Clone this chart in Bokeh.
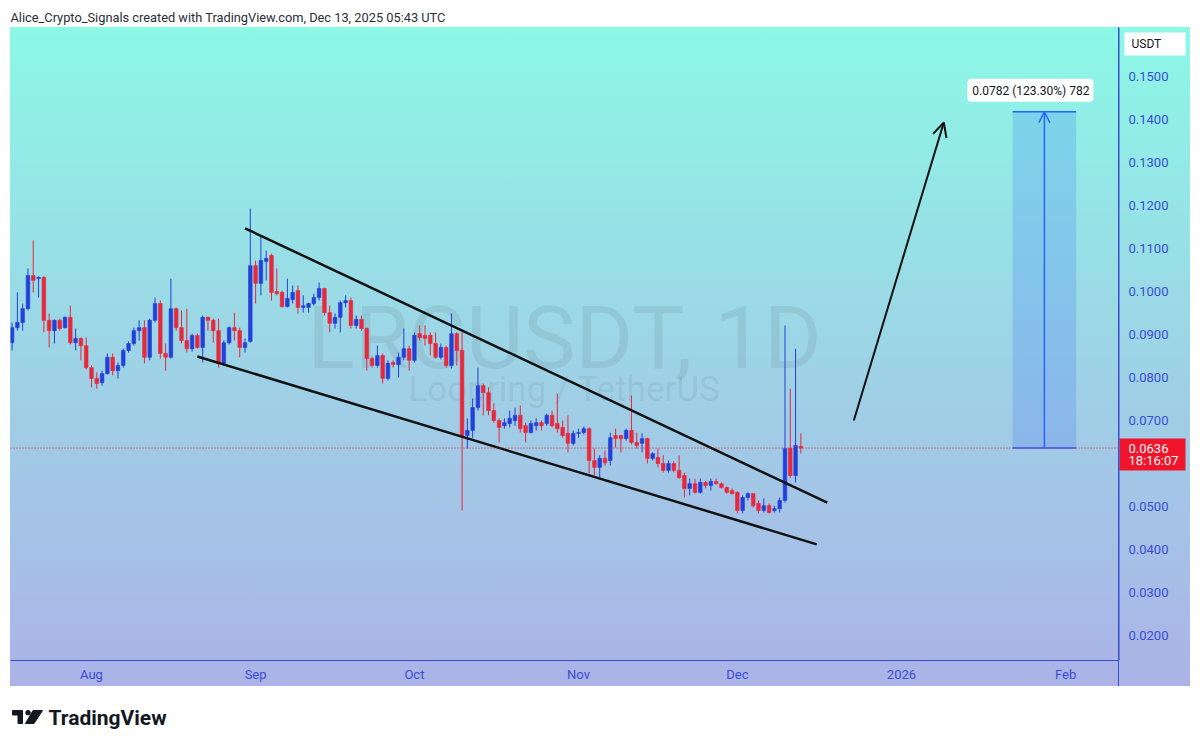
import pandas as pd
from bokeh.plotting import figure
from bokeh.layouts import column, row
from bokeh.models import (Range1d, FixedTicker, Span, Label, Arrow, OpenHead,
                          ColumnDataSource)
from bokeh.core.properties import value
from bokeh.embed import file_html
from bokeh.resources import INLINE

# ---------------- data ----------------
FIRST_DAY = "2025-07-17"
REF_DAY = "2025-08-01"

OPEN = [0.0881, 0.0916, 0.0928, 0.0960, 0.1037, 0.1030, 0.1033, 0.0933, 0.0909, 0.0933,
        0.0916, 0.0940, 0.0881, 0.0891, 0.0874, 0.0823, 0.0798, 0.0788, 0.0809, 0.0847,
        0.0816, 0.0828, 0.0863, 0.0879, 0.0909, 0.0916, 0.0847, 0.0933, 0.0972, 0.0856,
        0.0847, 0.0960, 0.0916, 0.0886, 0.0867, 0.0898, 0.0870, 0.0940, 0.0933, 0.0909,
        0.0833, 0.0881, 0.0916, 0.0909, 0.0870, 0.0884, 0.1060, 0.1019, 0.1070, 0.1084,
        0.1000, 0.0998, 0.0965, 0.0981, 0.1002, 0.0963, 0.0963, 0.0972, 0.0986, 0.1007,
        0.0951, 0.0926, 0.0940, 0.0974, 0.0979, 0.0921, 0.0935, 0.0914, 0.0844, 0.0828,
        0.0851, 0.0798, 0.0835, 0.0830, 0.0847, 0.0867, 0.0840, 0.0902, 0.0898, 0.0898,
        0.0879, 0.0847, 0.0870, 0.0828, 0.0902, 0.0863, 0.0665, 0.0677, 0.0730, 0.0781,
        0.0765, 0.0723, 0.0700, 0.0688, 0.0693, 0.0700, 0.0712, 0.0688, 0.0672, 0.0688,
        0.0695, 0.0693, 0.0712, 0.0693, 0.0684, 0.0670, 0.0647, 0.0670, 0.0672, 0.0681,
        0.0607, 0.0591, 0.0612, 0.0607, 0.0665, 0.0665, 0.0658, 0.0677, 0.0649, 0.0647,
        0.0658, 0.0612, 0.0614, 0.0600, 0.0584, 0.0600, 0.0584, 0.0572, 0.0542, 0.0553,
        0.0533, 0.0556, 0.0549, 0.0558, 0.0553, 0.0544, 0.0537, 0.0533, 0.0491, 0.0521,
        0.0530, 0.0507, 0.0491, 0.0502, 0.0491, 0.0495, 0.0514, 0.0635, 0.0572, 0.0640]

HIGH = [0.0928, 0.0998, 0.0972, 0.1054, 0.1119, 0.1035, 0.1035, 0.0949, 0.0935, 0.0937,
        0.0942, 0.0967, 0.0914, 0.0893, 0.0893, 0.0828, 0.0812, 0.0816, 0.0856, 0.0856,
        0.0835, 0.0867, 0.0884, 0.0916, 0.0933, 0.0933, 0.0937, 0.0986, 0.0979, 0.0879,
        0.1030, 0.0963, 0.0956, 0.0960, 0.0902, 0.0902, 0.0944, 0.0942, 0.0937, 0.0937,
        0.0886, 0.0919, 0.0951, 0.0916, 0.0891, 0.1193, 0.1072, 0.1130, 0.1095, 0.1088,
        0.1054, 0.1002, 0.1030, 0.1014, 0.1014, 0.0991, 0.0974, 0.0995, 0.1021, 0.1009,
        0.0967, 0.0949, 0.0979, 0.0991, 0.0986, 0.0944, 0.0944, 0.0916, 0.0849, 0.0874,
        0.0856, 0.0840, 0.0840, 0.0858, 0.0914, 0.0874, 0.0905, 0.0921, 0.0921, 0.0905,
        0.0905, 0.0879, 0.0874, 0.0949, 0.0905, 0.0905, 0.0705, 0.0751, 0.0823, 0.0786,
        0.0777, 0.0740, 0.0705, 0.0705, 0.0723, 0.0730, 0.0735, 0.0695, 0.0700, 0.0705,
        0.0700, 0.0716, 0.0723, 0.0763, 0.0700, 0.0712, 0.0677, 0.0681, 0.0686, 0.0684,
        0.0635, 0.0619, 0.0630, 0.0672, 0.0681, 0.0667, 0.0681, 0.0758, 0.0672, 0.0670,
        0.0660, 0.0626, 0.0635, 0.0619, 0.0607, 0.0605, 0.0619, 0.0579, 0.0565, 0.0565,
        0.0565, 0.0560, 0.0565, 0.0565, 0.0556, 0.0547, 0.0542, 0.0535, 0.0526, 0.0533,
        0.0530, 0.0514, 0.0519, 0.0507, 0.0502, 0.0521, 0.0921, 0.0774, 0.0867, 0.0670]

LOW = [0.0863, 0.0909, 0.0909, 0.0956, 0.0998, 0.0986, 0.0905, 0.0870, 0.0879, 0.0909,
       0.0914, 0.0877, 0.0863, 0.0840, 0.0819, 0.0777, 0.0774, 0.0781, 0.0807, 0.0805,
       0.0798, 0.0823, 0.0858, 0.0874, 0.0886, 0.0833, 0.0840, 0.0928, 0.0844, 0.0816,
       0.0844, 0.0909, 0.0879, 0.0858, 0.0860, 0.0867, 0.0835, 0.0909, 0.0881, 0.0823,
       0.0828, 0.0877, 0.0886, 0.0847, 0.0858, 0.0881, 0.0972, 0.0991, 0.1026, 0.0979,
       0.0991, 0.0963, 0.0963, 0.0972, 0.0949, 0.0951, 0.0951, 0.0967, 0.0979, 0.0944,
       0.0905, 0.0914, 0.0905, 0.0963, 0.0914, 0.0914, 0.0909, 0.0816, 0.0823, 0.0823,
       0.0786, 0.0793, 0.0823, 0.0800, 0.0840, 0.0816, 0.0835, 0.0886, 0.0874, 0.0851,
       0.0844, 0.0842, 0.0823, 0.0821, 0.0828, 0.0491, 0.0635, 0.0660, 0.0723, 0.0712,
       0.0712, 0.0695, 0.0649, 0.0681, 0.0684, 0.0688, 0.0672, 0.0649, 0.0670, 0.0677,
       0.0677, 0.0688, 0.0684, 0.0672, 0.0660, 0.0626, 0.0642, 0.0660, 0.0667, 0.0577,
       0.0572, 0.0567, 0.0595, 0.0595, 0.0637, 0.0626, 0.0653, 0.0644, 0.0635, 0.0626,
       0.0600, 0.0607, 0.0591, 0.0579, 0.0579, 0.0579, 0.0565, 0.0521, 0.0526, 0.0530,
       0.0530, 0.0542, 0.0537, 0.0551, 0.0542, 0.0530, 0.0528, 0.0484, 0.0484, 0.0514,
       0.0498, 0.0484, 0.0486, 0.0484, 0.0486, 0.0486, 0.0509, 0.0567, 0.0556, 0.0623]

CLOSE = [0.0916, 0.0928, 0.0960, 0.1037, 0.1026, 0.1033, 0.0933, 0.0909, 0.0933, 0.0914,
         0.0940, 0.0881, 0.0891, 0.0874, 0.0823, 0.0798, 0.0786, 0.0809, 0.0847, 0.0816,
         0.0828, 0.0863, 0.0879, 0.0909, 0.0916, 0.0847, 0.0933, 0.0972, 0.0856, 0.0847,
         0.0960, 0.0916, 0.0886, 0.0867, 0.0898, 0.0870, 0.0940, 0.0933, 0.0909, 0.0833,
         0.0881, 0.0916, 0.0909, 0.0870, 0.0881, 0.1060, 0.1019, 0.1072, 0.1077, 0.0998,
         0.0995, 0.0965, 0.0984, 0.0998, 0.0963, 0.0967, 0.0972, 0.0986, 0.1007, 0.0951,
         0.0926, 0.0940, 0.0974, 0.0979, 0.0921, 0.0935, 0.0914, 0.0844, 0.0828, 0.0851,
         0.0798, 0.0833, 0.0830, 0.0847, 0.0867, 0.0840, 0.0898, 0.0893, 0.0891, 0.0879,
         0.0847, 0.0870, 0.0828, 0.0902, 0.0863, 0.0665, 0.0677, 0.0730, 0.0781, 0.0765,
         0.0723, 0.0700, 0.0684, 0.0695, 0.0705, 0.0712, 0.0681, 0.0672, 0.0693, 0.0695,
         0.0688, 0.0712, 0.0688, 0.0681, 0.0665, 0.0647, 0.0670, 0.0672, 0.0681, 0.0607,
         0.0591, 0.0612, 0.0602, 0.0660, 0.0658, 0.0658, 0.0677, 0.0649, 0.0642, 0.0658,
         0.0612, 0.0623, 0.0600, 0.0584, 0.0600, 0.0584, 0.0567, 0.0542, 0.0553, 0.0533,
         0.0556, 0.0549, 0.0558, 0.0553, 0.0544, 0.0533, 0.0530, 0.0491, 0.0521, 0.0530,
         0.0502, 0.0491, 0.0502, 0.0486, 0.0495, 0.0514, 0.0635, 0.0572, 0.0642, 0.0636]

MONTH_TICKS = ["2025-08-01", "2025-09-01", "2025-10-01", "2025-11-01",
               "2025-12-01", "2026-01-01", "2026-02-01"]
MONTH_LABELS = ["Aug", "Sep", "Oct", "Nov", "Dec", "2026", "Feb"]
PRICE_TICKS = [0.02, 0.03, 0.04, 0.05, 0.07, 0.08, 0.09, 0.10, 0.11, 0.12, 0.13, 0.14, 0.15]

LAST_PRICE = 0.0636
LAST_TIME = "18:16:07"
MEASURE_DELTA = 0.0782
MEASURE_TEXT = "0.0782 (123.30%) 782"
MEASURE_DATES = ["2026-01-22", "2026-02-03"]

UPPER_DATES = ["2025-08-30", "2025-12-18"]
UPPER_PRICES = [0.1147, 0.0509]
LOWER_DATES = ["2025-08-21", "2025-12-16"]
LOWER_PRICES = [0.0849, 0.0412]
ARROW_DATES = ["2025-12-23", "2026-01-09"]
ARROW_PRICES = [0.0700, 0.1393]

HEADER = "Alice_Crypto_Signals created with TradingView.com, Dec 13, 2025 05:43 UTC"
SYMBOL = "LRCUSDT, 1D"
SYMBOL_DESC = "Loopring / TetherUS"
CURRENCY = "USDT"
BRAND = "TradingView"

# ---------------- helpers ----------------
REF = pd.Timestamp(REF_DAY)


def day(d):
    return float((pd.Timestamp(d) - REF).days)


dates = pd.date_range(FIRST_DAY, periods=len(OPEN), freq="D")
xs = [float((d - REF).days) for d in dates]

UP = "#2340d8"
DOWN = "#e8283c"
colors = [UP if c >= o else DOWN for o, c in zip(OPEN, CLOSE)]
tops = [max(o, c) for o, c in zip(OPEN, CLOSE)]
bots = [min(o, c) for o, c in zip(OPEN, CLOSE)]
src = ColumnDataSource(dict(x=xs, h=HIGH, l=LOW, top=tops, bottom=bots, color=colors))

TOTAL_W = 1192
MAIN_W = 1118
STRIP_W = TOTAL_W - MAIN_W
CHART_H = 659
FRAME_H = 633
BOTTOM_B = CHART_H - FRAME_H
FONT = "Roboto"
AXIS_BLUE = "#3a4dd2"
GRAD = "linear-gradient(180deg, #8cf8e6 0%, #9fd0e6 55%, #abb3e7 100%)"

# ---------------- header ----------------
hdr = figure(width=TOTAL_W, height=27, x_range=Range1d(0, TOTAL_W), y_range=Range1d(27, 0),
             output_backend="svg", toolbar_location=None, min_border=0,
             x_axis_location=None, y_axis_location=None)
hdr.grid.visible = False
hdr.outline_line_color = None
hdr.text(x=[10], y=[17], text=[HEADER], text_font=value(FONT), text_font_size="12.8px",
         text_color="#2a2e39", text_baseline="middle", text_align="left")

# ---------------- main chart ----------------
X0, X1 = -15.3, 194.0
Y0, Y1 = 0.01419, 0.16140
PX = (Y1 - Y0) / FRAME_H  # price per pixel
yr = Range1d(Y0, Y1)

p = figure(width=MAIN_W, height=CHART_H, x_range=Range1d(X0, X1), y_range=yr,
           output_backend="svg", toolbar_location=None, y_axis_location=None,
           min_border=0, min_border_left=10, min_border_right=0, min_border_top=0,
           min_border_bottom=BOTTOM_B)
p.background_fill_alpha = 0
p.border_fill_alpha = 0
p.outline_line_color = None
p.grid.visible = False
p.styles = {"background": GRAD + " 10px 0px / 1108px 100% no-repeat"}

xa = p.xaxis[0]
tick_x = [day(d) for d in MONTH_TICKS]
xa.ticker = FixedTicker(ticks=tick_x)
xa.major_label_overrides = {t: lab for t, lab in zip(tick_x, MONTH_LABELS)}
xa.axis_line_color = AXIS_BLUE
xa.major_tick_line_color = None
xa.minor_tick_line_color = None
xa.major_tick_out = 0
xa.major_tick_in = 0
xa.minor_tick_out = 0
xa.major_label_text_color = AXIS_BLUE
xa.major_label_text_font = FONT
xa.major_label_text_font_size = "13px"
xa.major_label_standoff = 6

# watermark (drawn first so it sits under the candles)
xmid = (X0 + X1) / 2
p.text(x=[xmid], y=[0.0893], text=[SYMBOL], text_align="center", text_baseline="alphabetic",
       text_font=value(FONT), text_font_size="88px", text_color="#5d7080", text_alpha=0.15)
p.text(x=[xmid], y=[0.0772], text=[SYMBOL_DESC], text_align="center",
       text_baseline="alphabetic", text_font=value(FONT), text_font_size="35px",
       text_color="#5d7080", text_alpha=0.15)

# current price line
p.add_layout(Span(location=LAST_PRICE, dimension="width", line_color="#f0152b",
                  line_dash="1 2", line_width=1))

# candles
p.segment(x0="x", y0="h", x1="x", y1="l", line_color="color", line_width=1, source=src)
p.vbar(x="x", width=0.68, top="top", bottom="bottom", fill_color="color",
       line_color="color", line_width=0.6, source=src)

# trend lines (falling wedge)
p.line([day(d) for d in UPPER_DATES], UPPER_PRICES, line_color="#111111", line_width=2.5)
p.line([day(d) for d in LOWER_DATES], LOWER_PRICES, line_color="#111111", line_width=2.5)

# projection arrow
p.add_layout(Arrow(end=OpenHead(size=14, line_width=2, line_color="#111111"),
                   x_start=day(ARROW_DATES[0]), y_start=ARROW_PRICES[0],
                   x_end=day(ARROW_DATES[1]), y_end=ARROW_PRICES[1],
                   line_color="#111111", line_width=2))

# price-range measurement
mx0, mx1 = day(MEASURE_DATES[0]), day(MEASURE_DATES[1])
mtop = LAST_PRICE + MEASURE_DELTA
MBLUE = "#2962ff"
p.quad(left=[mx0], right=[mx1], bottom=[LAST_PRICE], top=[mtop],
       fill_color=MBLUE, fill_alpha=0.19, line_color=None)
p.segment(x0=[mx0, mx0], y0=[mtop, LAST_PRICE], x1=[mx1, mx1], y1=[mtop, LAST_PRICE],
          line_color=MBLUE, line_width=1.5)
mmid = (mx0 + mx1) / 2
p.add_layout(Arrow(end=OpenHead(size=11, line_width=1.5, line_color=MBLUE),
                   x_start=mmid, y_start=LAST_PRICE, x_end=mmid, y_end=mtop,
                   line_color=MBLUE, line_width=1.5))
p.add_layout(Label(x=mmid, y=mtop, x_offset=-14, y_offset=10, text=MEASURE_TEXT,
                   text_align="center", text_baseline="bottom", text_font=FONT,
                   text_font_size="12px", text_color="#131722",
                   background_fill_color="white", border_radius=4,
                   padding=(5, 4, 5, 4)))

# ---------------- price scale strip (shares the price range) ----------------
strip = figure(width=STRIP_W, height=CHART_H, x_range=Range1d(0, STRIP_W), y_range=yr,
               output_backend="svg", toolbar_location=None, min_border=0,
               min_border_bottom=BOTTOM_B, x_axis_location=None, y_axis_location=None)
strip.background_fill_alpha = 0
strip.border_fill_alpha = 0
strip.outline_line_color = None
strip.grid.visible = False
strip.styles = {"background": "linear-gradient(%s, %s) 0px 0px / 1px 100%% no-repeat, "
                              "%s 0px 0px / 72px 100%% no-repeat" % (AXIS_BLUE, AXIS_BLUE, GRAD)}
strip.add_layout(Span(location=0.5, dimension="height", line_color=AXIS_BLUE, line_width=1))
strip.text(x=[10] * len(PRICE_TICKS), y=PRICE_TICKS,
           text=["%.4f" % t for t in PRICE_TICKS], text_font=value(FONT),
           text_font_size="13px", text_color=AXIS_BLUE, text_baseline="middle",
           text_align="left")
# last-price tag
strip.quad(left=[1], right=[67], bottom=[LAST_PRICE - 22.5 * PX], top=[LAST_PRICE + 9.5 * PX],
           fill_color="#f0152b", line_color=None)
strip.text(x=[10, 10], y=[LAST_PRICE, LAST_PRICE - 12.5 * PX],
           text=["%.4f" % LAST_PRICE, LAST_TIME], text_font=value(FONT),
           text_font_size="13px", text_color="#fff4f4", text_baseline="middle",
           text_align="left")
# currency box
strip.quad(left=[6], right=[67], bottom=[Y1 - 28 * PX], top=[Y1 - 5 * PX],
           fill_color="white", line_color=None)
strip.text(x=[13], y=[Y1 - 16.5 * PX], text=[CURRENCY], text_font=value(FONT),
           text_font_size="12px", text_color="#131722", text_baseline="middle",
           text_align="left")

# ---------------- footer ----------------
FH = 58
ftr = figure(width=TOTAL_W, height=FH, x_range=Range1d(0, TOTAL_W), y_range=Range1d(FH, 0),
             output_backend="svg", toolbar_location=None, min_border=0,
             x_axis_location=None, y_axis_location=None)
ftr.grid.visible = False
ftr.outline_line_color = None
ftr.patch([12, 22, 22, 17.5, 17.5, 12], [24, 24, 37, 37, 28.5, 28.5], color="#131722")
ftr.circle(x=[27.5], y=[26.2], radius=2.3, color="#131722")
ftr.patch([32.5, 42, 33.5, 25], [24, 24, 37, 37], color="#131722")
ftr.text(x=[48], y=[31], text=[BRAND], text_font=value(FONT), text_font_style="bold",
         text_font_size="21px", text_color="#131722", text_baseline="middle")

layout = column(hdr, row(p, strip), ftr)
open("out.html", "w").write(file_html(layout, INLINE, title="LRCUSDT"))
